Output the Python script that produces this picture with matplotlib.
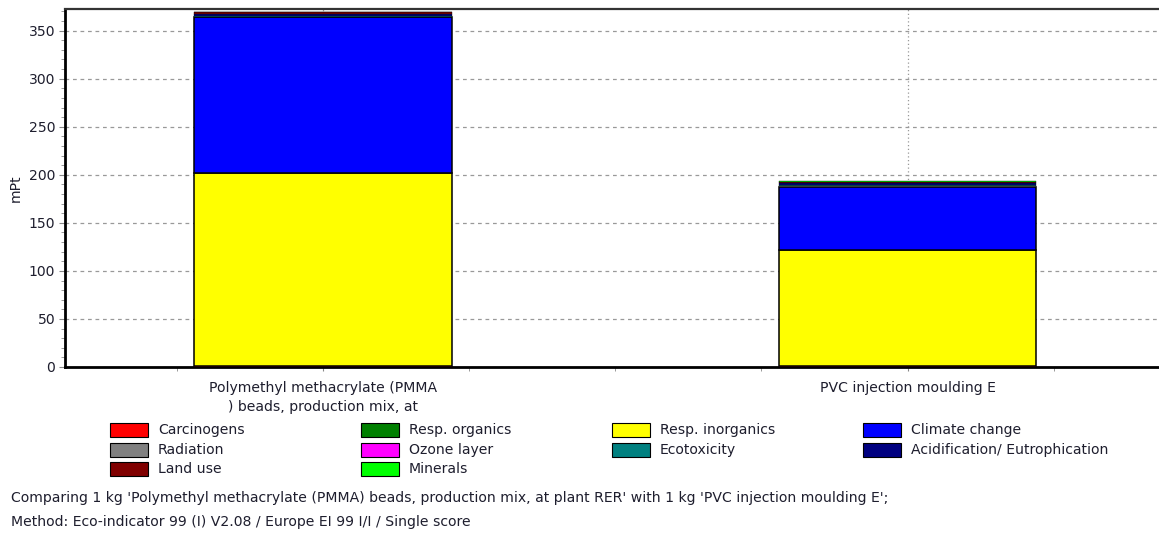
import matplotlib
matplotlib.use("Agg")
import matplotlib.pyplot as plt
from matplotlib.patches import Rectangle
from matplotlib.ticker import MultipleLocator, FixedLocator
import numpy as np

plt.rcParams['font.family'] = ['DejaVu Sans']

categories = ["Polymethyl methacrylate (PMMA\n) beads, production mix, at",
              "PVC injection moulding E"]
impacts = ["Carcinogens", "Resp. organics", "Resp. inorganics", "Climate change",
           "Radiation", "Ozone layer", "Ecotoxicity", "Acidification/ Eutrophication",
           "Land use", "Minerals"]
colors = ["#FF0000", "#008000", "#FFFF00", "#0000FF", "#808080", "#FF00FF",
          "#008080", "#000080", "#800000", "#00FF00"]
pmma = [0.6, 0.3, 200.5, 162.5, 0.2, 0.05, 1.5, 1.5, 2.5, 0.1]
pvc = [0.6, 0.2, 120.5, 66.5, 0.1, 0.05, 1.0, 2.0, 2.0, 0.1]
values = np.array([pmma, pvc]).T

FS = 10.1
TXT = '#1e1e2e'
W, H = 1159, 534
fig = plt.figure(figsize=(W/100, H/100), dpi=100)
ax = fig.add_axes([65/W, (H-367)/H, (1165-65)/W, (367-9)/H])

x = np.arange(len(categories))
bottom = np.zeros(len(categories))
for i, name in enumerate(impacts):
    lw = [1.1 if v > 5 else 0.25 for v in values[i]]
    ax.bar(x, values[i], 0.44, bottom=bottom, color=colors[i], edgecolor='black',
           linewidth=lw, zorder=3)
    bottom += values[i]

ax.set_xlim(-0.441, 1.44)
ax.set_ylim(0, 372.5)
ax.yaxis.set_major_locator(MultipleLocator(50))
ax.yaxis.set_minor_locator(MultipleLocator(10))
ax.set_xticks(x)
ax.set_xticklabels(categories, fontsize=FS, color=TXT, linespacing=1.45)
ax.xaxis.set_minor_locator(FixedLocator([-0.25, 0.25, 0.5, 0.75, 1.25]))
ax.tick_params(axis='y', which='major', labelsize=FS, length=4, color='#888888', pad=3,
               labelcolor=TXT)
ax.tick_params(axis='y', which='minor', length=3, color='#888888')
ax.tick_params(axis='x', which='both', length=3, color='#888888', pad=7)
ax.grid(axis='y', which='major', linestyle=(0, (3, 3)), color='#999999', linewidth=0.9, zorder=0)
ax.grid(axis='x', which='major', linestyle=(0, (1, 2)), color='#999999', linewidth=0.9, zorder=0)
ax.set_ylabel("mPt", fontsize=FS, labelpad=4, color=TXT)
ax.spines['right'].set_visible(False)
for s in ['left', 'bottom']:
    ax.spines[s].set_linewidth(2.0)
    ax.spines[s].set_color('black')
ax.spines['top'].set_linewidth(1.6)
ax.spines['top'].set_color('#333333')

# legend
col_x = [110, 361, 612, 863]
row_y = [430, 450, 469]
for k, name in enumerate(impacts):
    r, c = divmod(k, 4)
    bx, by = col_x[c], row_y[r]
    fig.patches.append(Rectangle(((bx+1)/W, (H-by-8)/H), 38/W, 14/H,
                                 transform=fig.transFigure, facecolor='#777777',
                                 edgecolor='none', alpha=0.6))
    fig.patches.append(Rectangle((bx/W, (H-by-7)/H), 38/W, 14/H,
                                 transform=fig.transFigure, facecolor=colors[k],
                                 edgecolor='black', linewidth=0.8))
    fig.text((bx+48)/W, (H-by)/H, name, fontsize=FS, va='center',
             ha='left', color=TXT)

fig.text(11/W, (H-498)/H,
         "Comparing 1 kg 'Polymethyl methacrylate (PMMA) beads, production mix, at plant RER' with 1 kg 'PVC injection moulding E';",
         fontsize=FS, va='center', ha='left', color=TXT)
fig.text(11/W, (H-522)/H,
         "Method: Eco-indicator 99 (I) V2.08 / Europe EI 99 I/I / Single score",
         fontsize=FS, va='center', ha='left', color=TXT)

fig.savefig("out.png", dpi=100)
